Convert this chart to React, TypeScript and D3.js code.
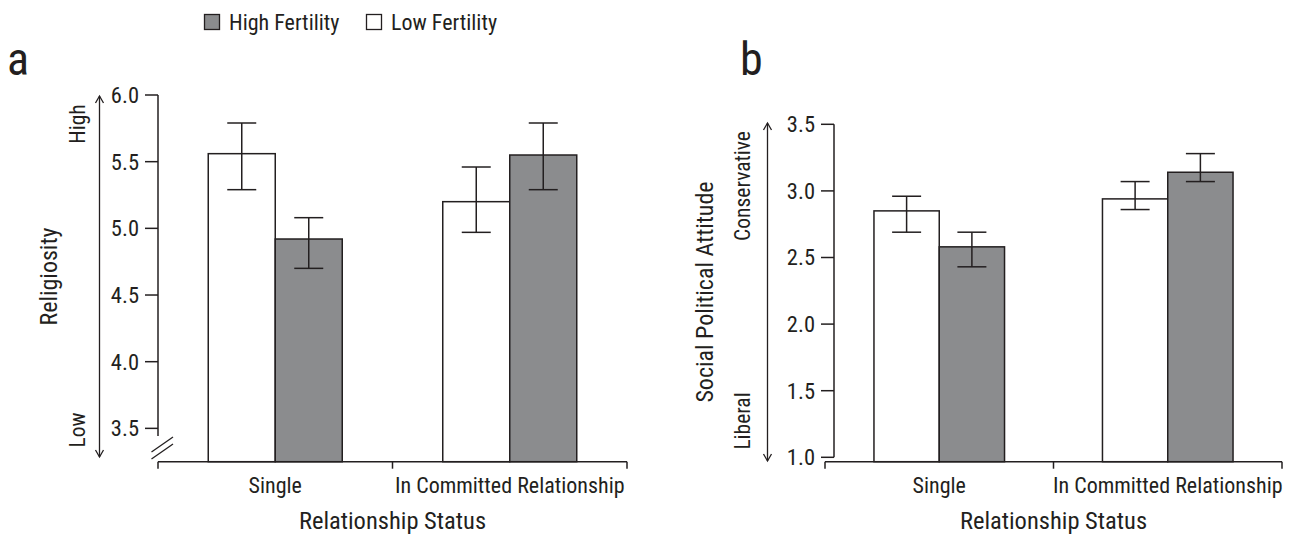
import React from "react";
import * as d3 from "d3";

const categories = ["Single", "In Committed Relationship"];
const seriesNames = ["Low Fertility", "High Fertility"];

// panel a: religiosity
const religLowMean = [5.56, 5.2];
const religLowUpper = [5.79, 5.46];
const religLowLower = [5.29, 4.97];
const religHighMean = [4.92, 5.55];
const religHighUpper = [5.08, 5.79];
const religHighLower = [4.7, 5.29];
const religTicks = [3.5, 4.0, 4.5, 5.0, 5.5, 6.0];

// panel b: social political attitude
const polLowMean = [2.85, 2.94];
const polLowUpper = [2.96, 3.07];
const polLowLower = [2.69, 2.86];
const polHighMean = [2.58, 3.14];
const polHighUpper = [2.69, 3.28];
const polHighLower = [2.43, 3.07];
const polTicks = [1.0, 1.5, 2.0, 2.5, 3.0, 3.5];

const INK = "#231f20";
const GRAY = "#8b8c8e";
const FONT = "'Liberation Sans Narrow', 'Arial Narrow', 'Roboto Condensed', sans-serif";

type PanelProps = {
  letter: string;
  letterX: number;
  x0: number;
  x1: number;
  yAxisX: number;
  yTop: number;
  yBottom: number;
  domain: [number, number];
  ticks: number[];
  baseY: number;
  lowMean: number[];
  lowUpper: number[];
  lowLower: number[];
  highMean: number[];
  highUpper: number[];
  highLower: number[];
  axisEnd: number;
  brk: boolean;
  arrowX: number;
  arrowTop: number;
  arrowBottom: number;
  title: string;
  titleX: number;
  highLabel: string;
  highY: number;
  lowLabel: string;
  lowY: number;
  sideX: number;
};

const Arrow = ({ x, y1, y2 }: { x: number; y1: number; y2: number }) => (
  <g stroke={INK} strokeWidth={1.3} fill="none">
    <line x1={x} x2={x} y1={y1} y2={y2} />
    <path d={`M${x - 4},${y1 + 7} L${x},${y1} L${x + 4},${y1 + 7}`} />
    <path d={`M${x - 4},${y2 - 7} L${x},${y2} L${x + 4},${y2 - 7}`} />
  </g>
);

const Panel = (p: PanelProps) => {
  const y = d3.scaleLinear().domain(p.domain).range([p.yBottom, p.yTop]);
  const xBand = d3.scaleBand<string>().domain(categories).range([p.x0, p.x1]).padding(0);
  const inner = d3
    .scaleBand<string>()
    .domain(seriesNames)
    .range([0, xBand.bandwidth()])
    .paddingInner(0)
    .paddingOuter(0.75);

  const rows = categories.flatMap((c, i) => [
    { c, s: seriesNames[0], m: p.lowMean[i], u: p.lowUpper[i], l: p.lowLower[i], fill: "#fff" },
    { c, s: seriesNames[1], m: p.highMean[i], u: p.highUpper[i], l: p.highLower[i], fill: GRAY },
  ]);
  const bw = inner.bandwidth();
  const cap = 14.5;
  const yAxisEnd = p.brk ? p.axisEnd : y(p.domain[0]);

  return (
    <g>
      <text x={p.letterX} y={75} fontSize={46} fill={INK} fontFamily={FONT}>
        {p.letter}
      </text>
      {rows.map((r, i) => {
        const bx = (xBand(r.c) as number) + (inner(r.s) as number);
        const cx = bx + bw / 2;
        return (
          <g key={i}>
            <rect
              x={bx}
              y={y(r.m)}
              width={bw}
              height={p.baseY - y(r.m)}
              fill={r.fill}
              stroke={INK}
              strokeWidth={1.5}
            />
            <g stroke={INK} strokeWidth={1.5}>
              <line x1={cx} x2={cx} y1={y(r.u)} y2={y(r.l)} />
              <line x1={cx - cap} x2={cx + cap} y1={y(r.u)} y2={y(r.u)} />
              <line x1={cx - cap} x2={cx + cap} y1={y(r.l)} y2={y(r.l)} />
            </g>
          </g>
        );
      })}
      {/* y axis */}
      <g stroke={INK} strokeWidth={1.5}>
        <line x1={p.yAxisX} x2={p.yAxisX} y1={y(p.domain[1])} y2={yAxisEnd} />
        {p.ticks.map((t) => (
          <line key={t} x1={p.yAxisX - 13} x2={p.yAxisX} y1={y(t)} y2={y(t)} />
        ))}
      </g>
      {p.ticks.map((t) => (
        <text
          key={t}
          x={p.yAxisX - 19}
          y={y(t)}
          dy="0.35em"
          textAnchor="end"
          fontSize={22.5}
          fill={INK}
          fontFamily={FONT}
        >
          {d3.format(".1f")(t)}
        </text>
      ))}
      {p.brk && (
        <g stroke={INK} strokeWidth={1.3}>
          <line x1={p.yAxisX - 6.5} x2={p.yAxisX + 15} y1={p.axisEnd + 16} y2={p.axisEnd + 1} />
          <line x1={p.yAxisX - 6.5} x2={p.yAxisX + 15} y1={p.axisEnd + 23} y2={p.axisEnd + 8} />
        </g>
      )}
      {/* x axis */}
      <g stroke={INK} strokeWidth={1.5}>
        <line x1={p.x0} x2={p.x1} y1={p.baseY} y2={p.baseY} />
        {[p.x0, ...categories.map((c) => (xBand(c) as number) + xBand.bandwidth())].map((tx, i) => (
          <line key={i} x1={tx} x2={tx} y1={p.baseY} y2={p.baseY + 7} />
        ))}
      </g>
      {categories.map((c) => (
        <text
          key={c}
          x={(xBand(c) as number) + xBand.bandwidth() / 2}
          y={493}
          textAnchor="middle"
          fontSize={22}
          fill={INK}
          fontFamily={FONT}
        >
          {c}
        </text>
      ))}
      <text
        x={(p.x0 + p.x1) / 2}
        y={529}
        textAnchor="middle"
        fontSize={24.5}
        fill={INK}
        fontFamily={FONT}
      >
        Relationship Status
      </text>
      <Arrow x={p.arrowX} y1={p.arrowTop} y2={p.arrowBottom} />
      <text
        transform={`translate(${p.titleX},${(p.arrowTop + p.arrowBottom) / 2}) rotate(-90)`}
        textAnchor="middle"
        dy="0.35em"
        fontSize={24}
        fill={INK}
        fontFamily={FONT}
      >
        {p.title}
      </text>
      <text
        transform={`translate(${p.sideX},${p.highY}) rotate(-90)`}
        textAnchor="middle"
        dy="0.35em"
        fontSize={21.5}
        fill={INK}
        fontFamily={FONT}
      >
        {p.highLabel}
      </text>
      <text
        transform={`translate(${p.sideX},${p.lowY}) rotate(-90)`}
        textAnchor="middle"
        dy="0.35em"
        fontSize={21.5}
        fill={INK}
        fontFamily={FONT}
      >
        {p.lowLabel}
      </text>
    </g>
  );
};

export default function App() {
  return (
    <svg
      width={1290}
      height={534}
      style={{ position: "absolute", left: 0, top: 0, background: "#fff" }}
    >
      {/* legend */}
      <g fontFamily={FONT} fontSize={22} fill={INK}>
        <rect x={204.5} y={14.5} width={15} height={15} fill={GRAY} stroke={INK} strokeWidth={1.3} />
        <text x={229} y={30}>High Fertility</text>
        <rect x={366.5} y={14.5} width={15} height={15} fill="#fff" stroke={INK} strokeWidth={1.3} />
        <text x={391} y={30}>Low Fertility</text>
      </g>
      <Panel
        letter="a"
        letterX={7}
        x0={158}
        x1={627}
        yAxisX={158}
        yTop={95}
        yBottom={461.7}
        domain={[3.25, 6.0]}
        ticks={religTicks}
        baseY={461.7}
        lowMean={religLowMean}
        lowUpper={religLowUpper}
        lowLower={religLowLower}
        highMean={religHighMean}
        highUpper={religHighUpper}
        highLower={religHighLower}
        axisEnd={436}
        brk={true}
        arrowX={99.5}
        arrowTop={96}
        arrowBottom={457}
        title="Religiosity"
        titleX={49}
        highLabel="High"
        highY={124}
        lowLabel="Low"
        lowY={430}
        sideX={77}
      />
      <Panel
        letter="b"
        letterX={740}
        x0={825}
        x1={1282}
        yAxisX={834}
        yTop={124.3}
        yBottom={457.3}
        domain={[1.0, 3.5]}
        ticks={polTicks}
        baseY={461.7}
        lowMean={polLowMean}
        lowUpper={polLowUpper}
        lowLower={polLowLower}
        highMean={polHighMean}
        highUpper={polHighUpper}
        highLower={polHighLower}
        axisEnd={457.3}
        brk={false}
        arrowX={767.5}
        arrowTop={123}
        arrowBottom={461}
        title="Social Political Attitude"
        titleX={705}
        highLabel="Conservative"
        highY={186}
        lowLabel="Liberal"
        lowY={421}
        sideX={742}
      />
    </svg>
  );
}
